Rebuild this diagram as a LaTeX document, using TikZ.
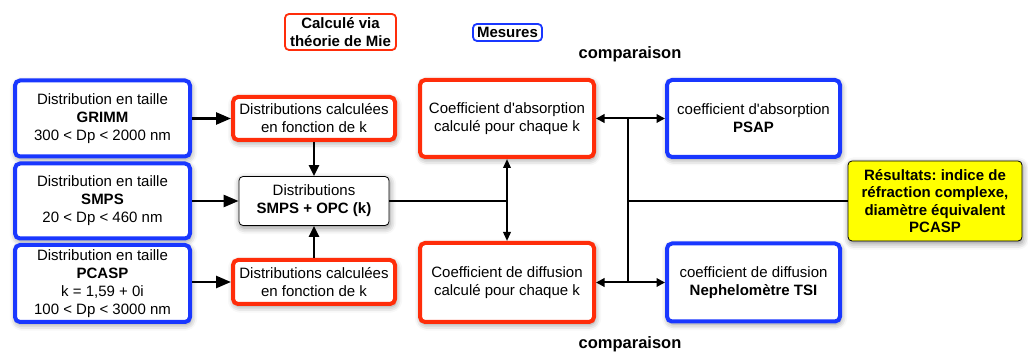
\documentclass[tikz,border=0pt]{standalone}
\usepackage{fontspec}
\setmainfont{Liberation Sans}
\usetikzlibrary{arrows.meta,shadows.blur}
\definecolor{mblue}{RGB}{25,55,255}
\definecolor{mred}{RGB}{255,45,10}
\definecolor{myel}{RGB}{255,255,0}
\frenchspacing
\begin{document}
\begin{tikzpicture}[x=1pt,y=-1pt,
  font=\fontsize{15}{18}\selectfont,
  base/.style={rounded corners=5pt, align=center, inner sep=0pt, fill=white,
    blur shadow={shadow xshift=1pt,shadow yshift=-2.5pt,shadow blur radius=6pt,shadow opacity=45}},
  bluebox/.style={base, draw=mblue, line width=4pt},
  redbox/.style={base, draw=mred, line width=4pt},
  thinbox/.style={base, draw=black, line width=0.8pt, rounded corners=4pt},
  legbox/.style={rounded corners=4pt, align=center, inner sep=0pt, fill=white, line width=1.8pt, font=\fontsize{15}{18}\selectfont\bfseries},
  bigarr/.style={line width=2.5pt, -{Triangle[length=15pt,width=12pt]}},
  vbigarr/.style={line width=2.8pt, -{Triangle[length=11pt,width=10pt]}},
  smallarr/.style={line width=2pt, -{Triangle[length=9pt,width=7.5pt]}},
  dblarr/.style={line width=2pt, {Triangle[length=8.5pt,width=8.5pt]}-{Triangle[length=8.5pt,width=8.5pt]}},
  plain/.style={line width=2pt},
  cmp/.style={font=\fontsize{16.5}{20}\selectfont\bfseries}
]
\useasboundingbox (0,0) rectangle (1028,352);

% legend
\node[legbox, draw=mred, minimum width=111pt, minimum height=36pt] (mie) at (340.5,32) {Calculé via\\théorie de Mie};
\node[legbox, draw=mblue, minimum width=69pt, minimum height=17pt] (mes) at (507.5,32.5) {Mesures};
\node[cmp] (cmp1) at (630,54) {comparaison};
\node[cmp] (cmp2) at (630,344) {comparaison};

% left measurement boxes
\node[bluebox, minimum width=175pt, minimum height=76pt] (grimm) at (102.5,118.5)
  {Distribution en taille\\\textbf{GRIMM}\\300 < Dp < 2000 nm};
\node[bluebox, minimum width=175pt, minimum height=75pt] (smps) at (102.5,201)
  {Distribution en taille\\\textbf{SMPS}\\20 < Dp < 460 nm};
\node[bluebox, minimum width=175pt, minimum height=77pt] (pcasp) at (102.5,283.5)
  {Distribution en taille\\\textbf{PCASP}\\k = 1,59 + 0i\\100 < Dp < 3000 nm};

% calculated distributions
\node[redbox, minimum width=162pt, minimum height=43pt] (calc1) at (314,118.5)
  {Distributions calculées\\en fonction de k};
\node[redbox, minimum width=162pt, minimum height=44pt] (calc2) at (314,282)
  {Distributions calculées\\en fonction de k};
\node[thinbox, minimum width=150pt, minimum height=49pt] (dist) at (314,201)
  {Distributions\\\textbf{SMPS + OPC (k)}};

% coefficients
\node[redbox, minimum width=174pt, minimum height=77pt] (coefA) at (507,118.5)
  {Coefficient d\textquotesingle absorption\\calculé pour chaque k};
\node[redbox, minimum width=174pt, minimum height=79pt] (coefD) at (507,282.5)
  {Coefficient de diffusion\\calculé pour chaque k};
\node[bluebox, minimum width=173pt, minimum height=77pt] (psap) at (753.5,118.5)
  {coefficient d\textquotesingle absorption\\\textbf{PSAP}};
\node[bluebox, minimum width=173pt, minimum height=78pt] (neph) at (753.5,282.5)
  {coefficient de diffusion\\\textbf{Nephelomètre TSI}};

% result
\node[thinbox, fill=myel, minimum width=174pt, minimum height=80pt, font=\fontsize{15}{17.5}\selectfont\bfseries] (res) at (935,201)
  {Résultats: indice de\\réfraction complexe,\\diamètre équivalent\\PCASP};

% connectors left
\draw[bigarr] (grimm.east) -- (calc1.west);
\draw[bigarr] (smps.east) -- (dist.west);
\draw[bigarr] (pcasp.east |- calc2.west) -- (calc2.west);
\draw[vbigarr] (calc1.south) -- (dist.north);
\draw[vbigarr] (calc2.north) -- (dist.south);

% connectors middle
\coordinate (j1) at (coefA.south |- dist.east);
\draw[plain] (dist.east) -- (j1);
\draw[smallarr] (j1) -- (coefA.south);
\draw[smallarr] (j1) -- (coefD.north);

% comparisons
\draw[dblarr] (coefA.east) -- (psap.west);
\draw[dblarr] (coefD.east) -- (neph.west);
\coordinate (jt) at (628,118.5);
\coordinate (jb) at (628,282.5);
\coordinate (jm) at (628,201);
\draw[plain] (jt) -- (jb);
\draw[plain] (jm) -- (res.west);
\end{tikzpicture}
\end{document}
